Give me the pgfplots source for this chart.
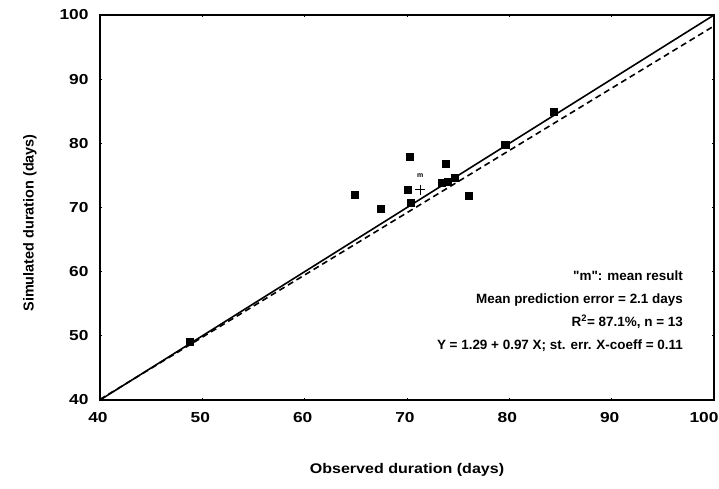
\documentclass[border=0pt]{standalone}
\usepackage{fontspec}
\setmainfont{Liberation Sans}
\newfontfamily\tickfont[FakeStretch=1.2]{Liberation Sans}
\newfontfamily\xlabfont[FakeStretch=1.15]{Liberation Sans}
\usepackage{pgfplots}
\pgfplotsset{compat=1.18}
\begin{document}
\begin{tikzpicture}[font=\fontsize{13.5}{16}\selectfont\bfseries]
\useasboundingbox (0,0) rectangle (719bp,489bp);
\begin{axis}[
  at={(100bp,89bp)}, anchor=south west,
  width=614bp, height=385bp, scale only axis,
  xmin=40, xmax=100, ymin=40, ymax=100,
  xtick={40,50,...,100}, ytick={40,50,...,100},
  xticklabels={40,50,60,70,80,90,{\hspace*{-16bp}100}},
  tick align=inside, major tick length=2bp,
  axis line style={line width=1.5bp},
  every tick/.style={line width=0.8bp},
  /pgf/number format/assume math mode=true,
  tick label style={font=\tickfont\fontsize{14.5}{17}\selectfont\bfseries},
  xticklabel style={yshift=-9bp, xshift=-2bp},
  yticklabel style={xshift=-8bp},
  xlabel={Observed duration (days)},
  ylabel={Simulated duration (days)},
  xlabel style={font=\xlabfont\fontsize{14}{16}\selectfont\bfseries, at={(axis description cs:0.5,-0.182)}, anchor=center},
  ylabel style={font=\fontsize{14.5}{16}\selectfont\bfseries, at={(axis description cs:-0.114,0.46)}, anchor=center},
  clip=false,
]
\addplot[line width=1.6bp] coordinates {(40,40) (100,100)};
\addplot[line width=1.6bp, dash pattern=on 6bp off 4bp] coordinates {(40,40.09) (100,98.29)};
\addplot[only marks, mark=square*, mark size=3.6bp, mark options={fill=black, draw=black}] coordinates {
(70.3,77.9) (73.8,76.8) (64.9,72.0) (67.4,69.8) (70.1,72.8) (70.4,70.8)
(73.4,73.9) (74.0,74.0) (74.7,74.7) (76.0,71.9) (84.3,84.9) (79.6,79.8) (48.8,49.1)};
\addplot[only marks, mark=+, mark size=5bp, mark options={line width=1.2bp}] coordinates {(71.3,72.8)};
\node[font=\fontsize{7}{8}\selectfont\bfseries] at (axis cs:71.3,74.9) {m};
\node[anchor=base east] at (axis description cs:0.955,0.31) {\textquotedbl m\textquotedbl: mean result};
\node[anchor=base east] at (axis description cs:0.955,0.25) {Mean prediction error = 2.1 days};
\node[anchor=base east] at (axis description cs:0.955,0.19) {R\textsuperscript{2}= 87.1\%, n = 13};
\node[anchor=base east] at (axis description cs:0.955,0.13) {Y = 1.29 + 0.97 X; st. err. X-coeff = 0.11};
\end{axis}
\end{tikzpicture}
\end{document}
